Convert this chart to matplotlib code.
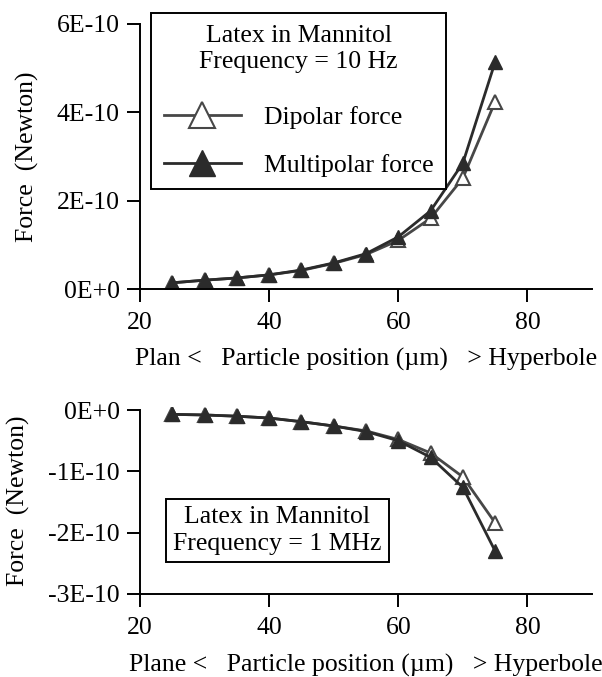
import numpy as np
import matplotlib
matplotlib.use("Agg")
import matplotlib.pyplot as plt

plt.rcParams['font.family'] = ['Liberation Serif', 'DejaVu Serif']

positions = [25, 30, 35, 40, 45, 50, 55, 60, 65, 70, 75]

# 10 Hz (top)
dip_10hz = [0.14e-10, 0.20e-10, 0.25e-10, 0.32e-10, 0.42e-10, 0.58e-10, 0.78e-10, 1.10e-10, 1.60e-10, 2.51e-10, 4.24e-10]
mult_10hz = [0.14e-10, 0.20e-10, 0.25e-10, 0.32e-10, 0.43e-10, 0.59e-10, 0.80e-10, 1.18e-10, 1.77e-10, 2.85e-10, 5.14e-10]

# 1 MHz (bottom)
dip_1mhz = [-0.07e-10, -0.08e-10, -0.10e-10, -0.13e-10, -0.19e-10, -0.26e-10, -0.34e-10, -0.48e-10, -0.70e-10, -1.09e-10, -1.84e-10]
mult_1mhz = [-0.07e-10, -0.08e-10, -0.10e-10, -0.13e-10, -0.19e-10, -0.26e-10, -0.35e-10, -0.50e-10, -0.77e-10, -1.26e-10, -2.30e-10]

top_ticks = [0, 2e-10, 4e-10, 6e-10]
top_labels = ['0E+0', '2E-10', '4E-10', '6E-10']
bot_ticks = [-3e-10, -2e-10, -1e-10, 0]
bot_labels = ['-3E-10', '-2E-10', '-1E-10', '0E+0']
x_ticks = [20, 40, 60, 80]

dip_col = '#474747'
mult_col = '#2b2b2b'
fs = 18.5

fig = plt.figure(figsize=(6.02, 6.77), dpi=100)
ax1 = fig.add_axes([140/602, 1-289/677, 452/602, 265/677])
ax2 = fig.add_axes([140/602, 1-594/677, 452/602, 187/677])

def style(ax):
    for s in ['top', 'right']:
        ax.spines[s].set_visible(False)
    for s in ['left', 'bottom']:
        ax.spines[s].set_linewidth(1.4)
    ax.tick_params(direction='out', length=9.5, width=1.4, labelsize=fs)
    ax.tick_params(axis='x', pad=7)
    ax.tick_params(axis='y', pad=5)
    ax.set_xlim(20, 90)
    ax.set_xticks(x_ticks)

# top
l1, = ax1.plot(positions, dip_10hz, color=dip_col, lw=2, marker='^', ms=9.5,
               mfc='white', mec=dip_col, mew=1.5)
l2, = ax1.plot(positions, mult_10hz, color=mult_col, lw=2, marker='^', ms=9.5,
               mfc=mult_col, mec=mult_col)
style(ax1)
ax1.set_ylim(0, 6e-10)
ax1.set_yticks(top_ticks)
ax1.set_yticklabels(top_labels)
ax1.set_ylabel('Force  (Newton)', fontsize=fs, labelpad=13)
ax1.set_xlabel('Plan <   Particle position (\u00b5m)   > Hyperbole', fontsize=fs, labelpad=10)
leg = ax1.legend([l1, l2], ['Dipolar force', 'Multipolar force'],
                 title='Latex in Mannitol\nFrequency = 10 Hz', title_fontsize=fs,
                 fontsize=fs, loc='upper left', bbox_to_anchor=(0.024, 1.043),
                 handlelength=3.0, handletextpad=0.9, labelspacing=0.95,
                 fancybox=False, edgecolor='black', framealpha=1, borderpad=0.5,
                 borderaxespad=0, markerscale=1.9)
leg.get_frame().set_linewidth(1.4)
leg.get_title().set_multialignment('center')
leg.get_title().set_linespacing(1.2)
leg._legend_box.sep = 24  # extra gap between title and entries (points)

# bottom
ax2.plot(positions, dip_1mhz, color=dip_col, lw=2, marker='^', ms=9.5,
         mfc='white', mec=dip_col, mew=1.5)
ax2.plot(positions, mult_1mhz, color=mult_col, lw=2, marker='^', ms=9.5,
         mfc=mult_col, mec=mult_col)
style(ax2)
ax2.set_ylim(-3e-10, 0.05e-10)
ax2.set_yticks(bot_ticks)
ax2.set_yticklabels(bot_labels)
ax2.spines['left'].set_bounds(-3e-10, 0)
ax2.set_ylabel('Force  (Newton)', fontsize=fs, labelpad=13)
ax2.set_xlabel('Plane <   Particle position (\u00b5m)   > Hyperbole', fontsize=fs, labelpad=11)
ax2.text(0.304, 0.34, 'Latex in Mannitol\nFrequency = 1 MHz', transform=ax2.transAxes,
         fontsize=fs, ha='center', va='center', multialignment='center',
         linespacing=1.25,
         bbox=dict(boxstyle='square,pad=0.3', fc='white', ec='black', lw=1.4))

fig.savefig('out.png', dpi=100)
